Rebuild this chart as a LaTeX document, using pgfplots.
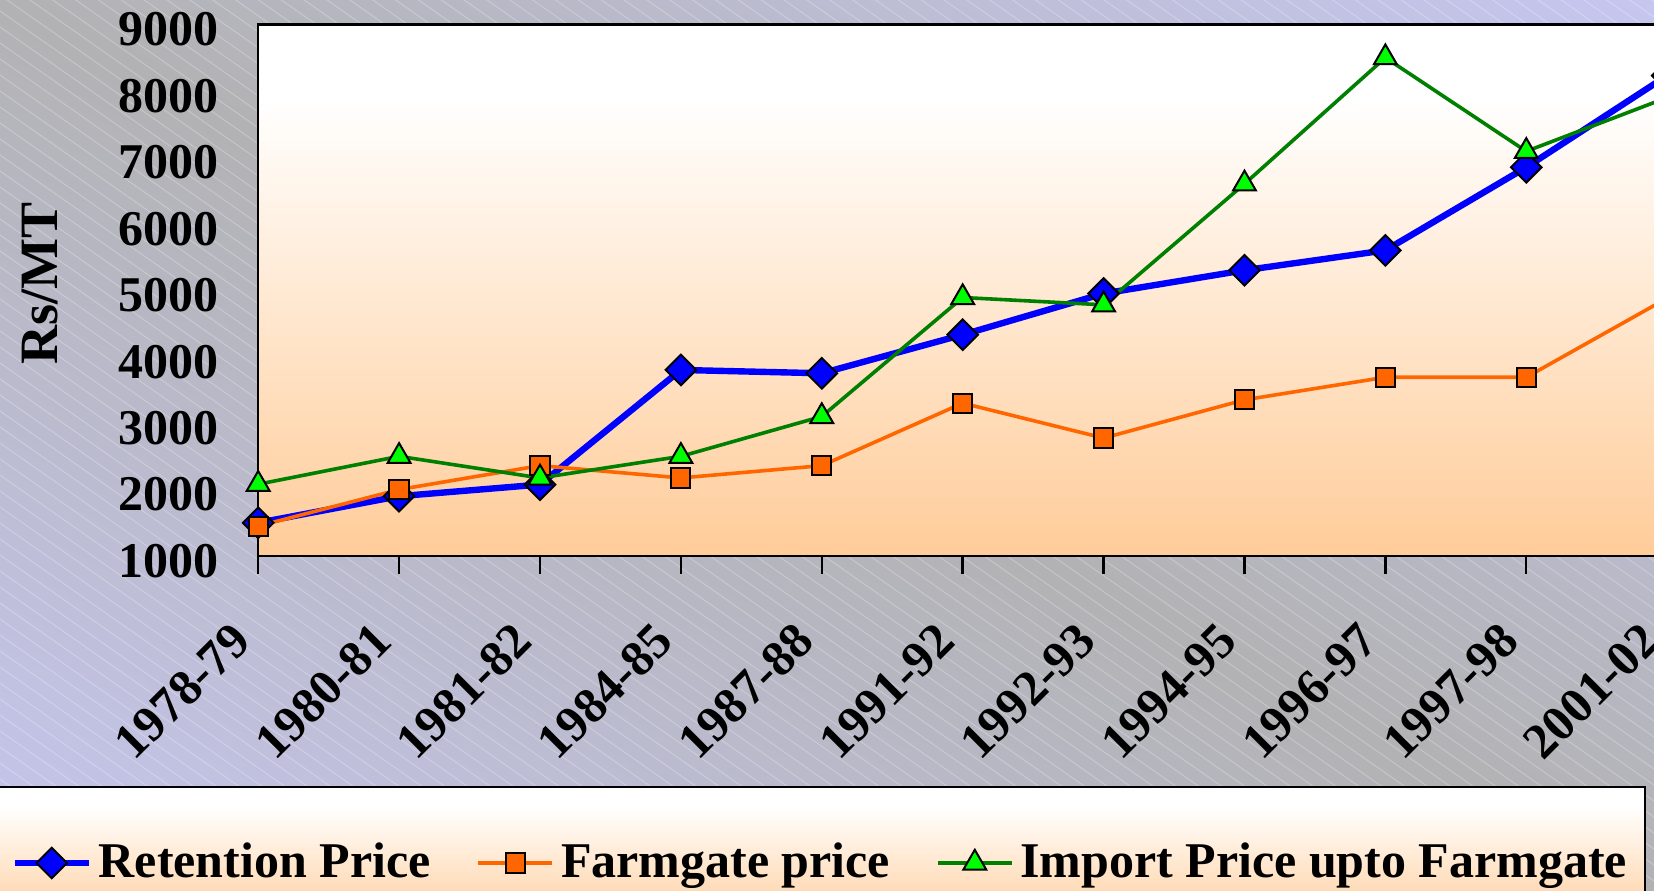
\documentclass[border=0pt]{standalone}
\usepackage{fontspec}
\setmainfont{Liberation Serif}
\usepackage{pgfplots}
\pgfplotsset{compat=1.18}
\definecolor{bgGray}{HTML}{B2B2B4}
\definecolor{bgLav}{HTML}{C6C6F0}
\definecolor{peach}{HTML}{FFCC99}
\definecolor{serBlue}{HTML}{0000FF}
\definecolor{serOrange}{HTML}{FF6600}
\definecolor{serGreen}{HTML}{008000}
\definecolor{triGreen}{HTML}{00FF00}
\pgfdeclareverticalshading{plotbg}{100bp}{color(0bp)=(peach); color(25bp)=(peach); color(68bp)=(white); color(100bp)=(white)}
\pgfdeclareverticalshading{bgdiag}{100bp}{color(0bp)=(bgLav); color(25bp)=(bgLav); color(50bp)=(bgGray); color(75bp)=(bgLav); color(100bp)=(bgLav)}

\pgfplotstableread{
x ret farm imp
0 1500 1450 2080
1 1900 2000 2500
2 2075 2360 2175
3 3800 2175 2500
4 3750 2360 3100
5 4330 3300 4890
6 4950 2775 4780
7 5300 3350 6600
8 5600 3690 8500
9 6850 3690 7090
10 8230 4880 7900
}\datatable

\begin{document}
\begin{tikzpicture}
\useasboundingbox (0,0) rectangle (413.5pt,222.75pt);
\clip (0,0) rectangle (413.5pt,222.75pt);
% background diagonal gradient
\begin{scope}[transform canvas={rotate around={-28.3:(206.75pt,111.375pt)}}]
\shade[shading=bgdiag] (206.75pt-480pt,111.375pt-196.1pt) rectangle (206.75pt+480pt,111.375pt+196.1pt);
\end{scope}
% faint hatching
\foreach \c in {0,4,...,520} {
  \draw[white, opacity=0.25, line width=0.25pt] (0pt,\c pt) -- ++(413.5pt,-289.5pt);
}
% legend box
\shade[shading=plotbg] (-2pt,-9pt) rectangle (411.25pt,26pt);
\draw[black, line width=0.55pt] (-2pt,26pt) -- (411.25pt,26pt) -- (411.25pt,-9pt);

\begin{axis}[
  at={(64.55pt,83.75pt)}, anchor=south west,
  scale only axis, width=352.25pt, height=132.9pt,
  xmin=0, xmax=10, ymin=1000, ymax=9000,
  xtick={0,...,10},
  xticklabels={1978-79,1980-81,1981-82,1984-85,1987-88,1991-92,1992-93,1994-95,1996-97,1997-98,2001-02},
  ytick={1000,2000,...,9000},
  axis background/.style={shading=plotbg},
  axis line style={line width=0.6pt, black},
  tick align=outside, xtick pos=bottom, ytick pos=left,
  major tick length=4.4pt,
  xtick style={line width=0.6pt, black},
  ytick style={draw=none},
  ticklabel style={font=\fontsize{12.5}{14}\selectfont\bfseries},
  /pgf/number format/assume math mode=true,
  /pgf/number format/1000 sep={},
  yticklabel style={inner sep=0pt, xshift=-5.25pt, yshift=-1.25pt},
  xticklabel style={inner sep=0pt, anchor=east, xshift=-4.1pt, yshift=-14.6pt, rotate=45},
  ylabel={Rs/MT},
  ylabel style={font=\fontsize{13.5}{16}\selectfont\bfseries, at={(axis description cs:-0.1549,0.5135)}, anchor=center},
  legend columns=3,
  legend style={at={(axis description cs:-0.17558,-0.5775)}, anchor=west, draw=none, fill=none, inner sep=0pt,
    font=\fontsize{12.5}{14}\selectfont\bfseries,
    nodes={inner sep=0pt},
    /tikz/every odd column/.append style={column sep=1.7pt},
    /tikz/every even column/.append style={column sep=11.5pt}},
  legend image code/.code={\draw[mark repeat=2,mark phase=2,#1] plot coordinates {(0pt,0pt) (9.25pt,0pt) (18.5pt,0pt)};},
]
\addplot[serBlue, line width=1.6pt, mark=square*, mark size=2.7pt, mark options={rotate=45, fill=serBlue, draw=black, line width=0.5pt, solid}] table[x=x, y=ret] {\datatable};
\addlegendentry{Retention Price}
\addplot[serOrange, line width=0.9pt, mark=square*, mark size=2.4pt, mark options={fill=serOrange, draw=black, line width=0.5pt, solid}] table[x=x, y=farm] {\datatable};
\addlegendentry{Farmgate price}
\addplot[serGreen, line width=0.9pt, mark=triangle*, mark size=3.3pt, mark options={fill=triGreen, draw=black, line width=0.5pt, solid}] table[x=x, y=imp] {\datatable};
\addlegendentry{Import Price upto Farmgate}
\end{axis}
\end{tikzpicture}
\end{document}
